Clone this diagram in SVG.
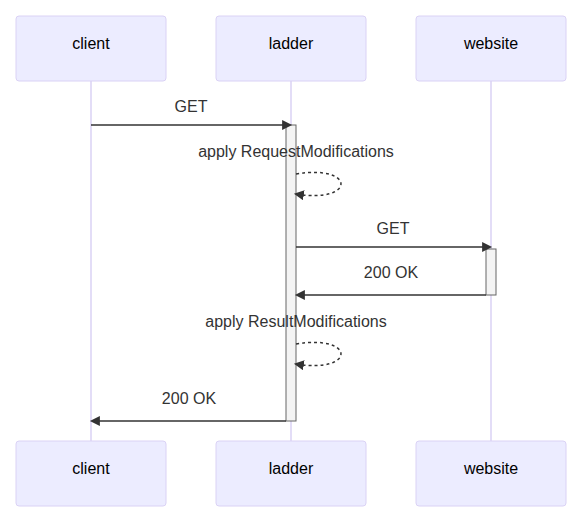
<svg xmlns="http://www.w3.org/2000/svg" width="580" height="518" viewBox="0 0 580 518">
<style>
.actor{fill:#ECECFF;stroke:#DAD2F5;stroke-width:1}
.life{stroke:#DAD2F5;stroke-width:1.5}
.atext{font-family:"Liberation Sans",Arial,sans-serif;font-size:16px;fill:#000;text-anchor:middle;dominant-baseline:central}
.mtext{font-family:"Liberation Sans",Arial,sans-serif;font-size:16px;fill:#333;text-anchor:middle;dominant-baseline:central}
.msg{stroke:#333;stroke-width:1.5;fill:none}
.loop{stroke:#333;stroke-width:1.5;fill:none;stroke-dasharray:3,3}
.act{fill:#F4F4F4;stroke:#666;stroke-width:1}
</style>
<defs>
<marker id="ah" viewBox="0 0 12 12" refX="7.9" refY="5" markerWidth="12" markerHeight="12" markerUnits="userSpaceOnUse" orient="auto">
<path d="M 0 0 L 10 5 L 0 10 z" fill="#333"/>
</marker>
</defs>
<g id="lifelines">
<line class="life" x1="91" y1="81" x2="91" y2="441"/>
<line class="life" x1="291" y1="81" x2="291" y2="441"/>
<line class="life" x1="491" y1="81" x2="491" y2="441"/>
</g>
<g id="client-top"><rect class="actor" x="16" y="16" width="150" height="65" rx="3"/><text class="atext" x="91" y="43.5">client</text></g>
<g id="ladder-top"><rect class="actor" x="216" y="16" width="150" height="65" rx="3"/><text class="atext" x="291" y="43.5">ladder</text></g>
<g id="website-top"><rect class="actor" x="416" y="16" width="150" height="65" rx="3"/><text class="atext" x="491" y="43.5">website</text></g>
<g id="client-bottom"><rect class="actor" x="16" y="441" width="150" height="65" rx="3"/><text class="atext" x="91" y="468.5">client</text></g>
<g id="ladder-bottom"><rect class="actor" x="216" y="441" width="150" height="65" rx="3"/><text class="atext" x="291" y="468.5">ladder</text></g>
<g id="website-bottom"><rect class="actor" x="416" y="441" width="150" height="65" rx="3"/><text class="atext" x="491" y="468.5">website</text></g>
<g id="activations">
<rect class="act" x="286" y="125" width="10" height="296"/>
<rect class="act" x="486" y="249" width="10" height="46"/>
</g>
<g id="connectors">
<line class="msg" x1="91" y1="125" x2="290" y2="125" marker-end="url(#ah)"/>
<text class="mtext" x="191" y="106">GET</text>
<text class="mtext" x="296" y="151">apply RequestModifications</text>
<path class="loop" d="M 296,174 C 356,164 356,204 296,194" marker-end="url(#ah)"/>
<line class="msg" x1="296" y1="247" x2="490" y2="247" marker-end="url(#ah)"/>
<text class="mtext" x="393" y="228">GET</text>
<line class="msg" x1="486" y1="295" x2="297" y2="295" marker-end="url(#ah)"/>
<text class="mtext" x="391" y="272">200 OK</text>
<text class="mtext" x="296" y="321">apply ResultModifications</text>
<path class="loop" d="M 296,344 C 356,334 356,374 296,364" marker-end="url(#ah)"/>
<line class="msg" x1="286" y1="421" x2="92" y2="421" marker-end="url(#ah)"/>
<text class="mtext" x="189" y="398">200 OK</text>
</g>
</svg>
